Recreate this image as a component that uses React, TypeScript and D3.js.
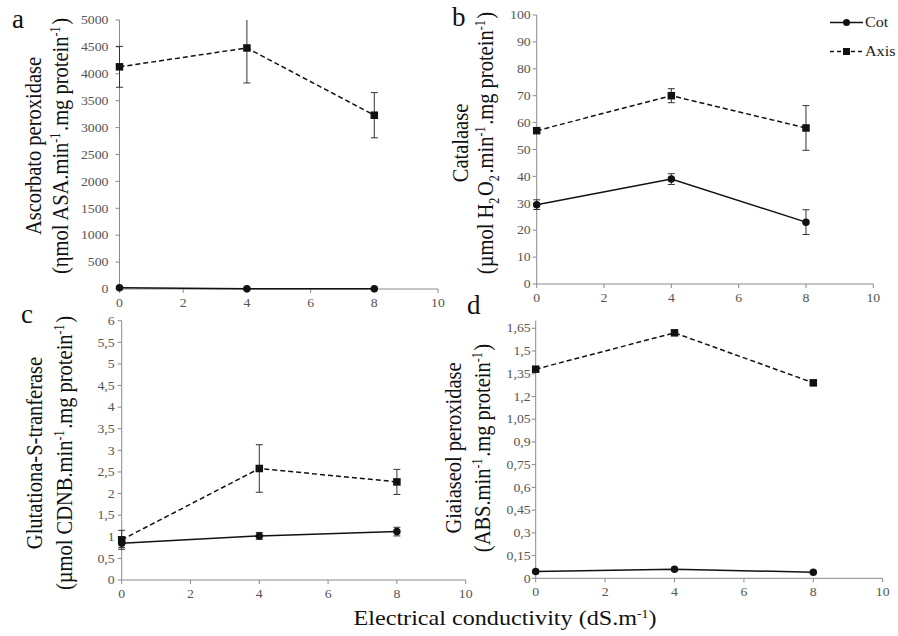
import React from "react";
import * as d3 from "d3";

const xValues = [0, 4, 8];
const xTicks = [0, 2, 4, 6, 8, 10];

const apxAxis = [4130, 4480, 3230];
const apxAxisErr = [380, 650, 420];
const apxCot = [25, 5, 5];
const apxCotErr = [0, 0, 0];

const catAxis = [57, 70, 58];
const catAxisErr = [0.5, 2.6, 8.3];
const catCot = [29.5, 39, 23];
const catCotErr = [1.8, 2, 4.6];

const gstAxis = [0.93, 2.58, 2.27];
const gstAxisErr = [0.22, 0.55, 0.29];
const gstCot = [0.85, 1.02, 1.12];
const gstCotErr = [0.1, 0.08, 0.1];

const gpxAxis = [1.38, 1.62, 1.29];
const gpxCot = [0.045, 0.06, 0.04];

const apxTicks = d3.range(0, 5001, 500);
const catTicks = d3.range(0, 101, 10);
const gstTicks = d3.range(0, 6.01, 0.5);
const gpxTicks = d3.range(0, 12).map((i) => +(i * 0.15).toFixed(2));

const seriesNames = ["Cot", "Axis"];

const FONT = "'Liberation Serif', 'Times New Roman', serif";
const SX = 1.15;
const fmt = (v: number) => String(+v.toFixed(2)).replace(".", ",");

function Sup({ t }: { t: string }) {
  return (
    <>
      <tspan dy={-7} fontSize={12}>{t}</tspan>
      <tspan dy={7}>{"\u200a"}</tspan>
    </>
  );
}
function Sub({ t }: { t: string }) {
  return (
    <>
      <tspan dy={5} fontSize={12}>{t}</tspan>
      <tspan dy={-5}>{"\u200a"}</tspan>
    </>
  );
}

function HText(props: { x: number; y: number; size: number; anchor?: string; fill?: string; dy?: string; children: React.ReactNode }) {
  return (
    <text
      transform={`translate(${props.x},${props.y}) scale(${SX},1)`}
      dy={props.dy}
      textAnchor={props.anchor || "start"}
      fontFamily={FONT}
      fontSize={props.size}
      fill={props.fill || "#111"}
    >
      {props.children}
    </text>
  );
}

type Panel = {
  letter: string;
  lx: number; ly: number;
  x0: number; x1: number; yTop: number; yBot: number;
  yMax: number; ticks: number[];
  axis: number[]; axisErr: number[] | null;
  cot: number[]; cotErr: number[] | null;
  tickGap: number;
  title1: string; t1x: number; t2x: number; tcy: number;
  title2: React.ReactNode;
};

const panels: Panel[] = [
  {
    letter: "a", lx: 12, ly: 28,
    x0: 119.5, x1: 438, yTop: 20, yBot: 289, yMax: 5000, ticks: apxTicks,
    axis: apxAxis, axisErr: apxAxisErr, cot: apxCot, cotErr: apxCotErr,
    tickGap: 11,
    title1: "Ascorbato peroxidase", t1x: 41, t2x: 68, tcy: 146,
    title2: (<>(ηmol ASA.min<Sup t="-1" />.mg protein<Sup t="-1" />)</>),
  },
  {
    letter: "b", lx: 452, ly: 26,
    x0: 536.7, x1: 873.3, yTop: 15, yBot: 284, yMax: 100, ticks: catTicks,
    axis: catAxis, axisErr: catAxisErr, cot: catCot, cotErr: catCotErr,
    tickGap: 6,
    title1: "Catalaase", t1x: 468, t2x: 493, tcy: 143,
    title2: (<>(µmol H<Sub t="2" />O<Sub t="2" />.min<Sup t="-1" />.mg protein<Sup t="-1" />)</>),
  },
  {
    letter: "c", lx: 21, ly: 323,
    x0: 121.7, x1: 465.7, yTop: 320.7, yBot: 580, yMax: 6, ticks: gstTicks,
    axis: gstAxis, axisErr: gstAxisErr, cot: gstCot, cotErr: gstCotErr,
    tickGap: 7,
    title1: "Glutationa-S-tranferase", t1x: 42, t2x: 72, tcy: 453,
    title2: (<>(µmol CDNB.min<Sup t="-1" />.mg protein<Sup t="-1" />)</>),
  },
  {
    letter: "d", lx: 467, ly: 314,
    x0: 535.7, x1: 882.7, yTop: 320.7, yBot: 578.3, yMax: 1.7, ticks: gpxTicks,
    axis: gpxAxis, axisErr: null, cot: gpxCot, cotErr: null,
    tickGap: 5,
    title1: "Giaiaseol peroxidase", t1x: 461, t2x: 490, tcy: 448,
    title2: (<>(ABS.min<Sup t="-1" />.mg protein<Sup t="-1" />)</>),
  },
];

function PanelView({ p }: { p: Panel }) {
  const x = d3.scaleLinear().domain([0, 10]).range([p.x0, p.x1]);
  const y = d3.scaleLinear().domain([0, p.yMax]).range([p.yBot, p.yTop]);
  const line = d3
    .line<number>()
    .x((_, i) => x(xValues[i]))
    .y((d) => y(d));
  const clampY = (v: number) => y(Math.min(Math.max(v, 0), p.yMax));

  const errBars = (vals: number[], errs: number[] | null, key: string) =>
    errs
      ? vals.map((v, i) =>
          errs[i] > 0 ? (
            <g key={key + i} stroke="#333" strokeWidth={1}>
              <line x1={x(xValues[i])} x2={x(xValues[i])} y1={clampY(v + errs[i])} y2={clampY(v - errs[i])} />
              {v + errs[i] <= p.yMax && (
                <line x1={x(xValues[i]) - 3.5} x2={x(xValues[i]) + 3.5} y1={clampY(v + errs[i])} y2={clampY(v + errs[i])} />
              )}
              <line x1={x(xValues[i]) - 3.5} x2={x(xValues[i]) + 3.5} y1={clampY(v - errs[i])} y2={clampY(v - errs[i])} />
            </g>
          ) : null
        )
      : null;

  const titleT = (tx: number) => `translate(${tx},${p.tcy}) scale(${SX},1) rotate(-90)`;

  return (
    <g>
      <text x={p.lx} y={p.ly} fontFamily={FONT} fontSize={27} fill="#111">{p.letter}</text>
      <line x1={p.x0} x2={p.x0} y1={p.yTop} y2={p.yBot} stroke="#8a8a8a" strokeWidth={1} />
      <line x1={p.x0} x2={p.x1} y1={p.yBot} y2={p.yBot} stroke="#8a8a8a" strokeWidth={1} />
      {p.ticks.map((t) => (
        <g key={"yt" + t}>
          <line x1={p.x0 - 4} x2={p.x0} y1={y(t)} y2={y(t)} stroke="#8a8a8a" />
          <HText x={p.x0 - p.tickGap} y={y(t)} dy="0.35em" anchor="end" size={12} fill="#555">
            {fmt(t)}
          </HText>
        </g>
      ))}
      {xTicks.map((t) => (
        <g key={"xt" + t}>
          <line x1={x(t)} x2={x(t)} y1={p.yBot} y2={p.yBot + 4} stroke="#8a8a8a" />
          <HText x={x(t)} y={p.yBot + 18} anchor="middle" size={12} fill="#555">
            {t}
          </HText>
        </g>
      ))}
      <text transform={titleT(p.t1x)} textAnchor="middle" fontFamily={FONT} fontSize={20.5} fill="#111">
        {p.title1}
      </text>
      <text transform={titleT(p.t2x)} textAnchor="middle" fontFamily={FONT} fontSize={20.5} fill="#111">
        {p.title2}
      </text>
      {errBars(p.axis, p.axisErr, "ea")}
      {errBars(p.cot, p.cotErr, "ec")}
      <path d={line(p.axis) || ""} fill="none" stroke="#111" strokeWidth={1.5} strokeDasharray="5,3" />
      <path d={line(p.cot) || ""} fill="none" stroke="#111" strokeWidth={1.5} />
      {p.axis.map((v, i) => (
        <rect key={"ma" + i} x={x(xValues[i]) - 3.75} y={y(v) - 3.75} width={7.5} height={7.5} fill="#111" />
      ))}
      {p.cot.map((v, i) => (
        <circle key={"mc" + i} cx={x(xValues[i])} cy={y(v)} r={3.75} fill="#111" />
      ))}
    </g>
  );
}

export default function App() {
  return (
    <svg width={898} height={636} style={{ position: "absolute", left: 0, top: 0, background: "#fff" }}>
      <rect width={898} height={636} fill="#fff" />
      {panels.map((p) => (
        <PanelView key={p.letter} p={p} />
      ))}
      <g>
        <line x1={830} x2={863} y1={22.5} y2={22.5} stroke="#111" strokeWidth={1.5} />
        <circle cx={846.5} cy={22.5} r={3.5} fill="#111" />
        <HText x={865} y={22.5} dy="0.35em" size={14} fill="#222">{seriesNames[0]}</HText>
        <line x1={830} x2={863} y1={51.5} y2={51.5} stroke="#111" strokeWidth={1.5} strokeDasharray="4,3" />
        <rect x={843} y={48} width={7} height={7} fill="#111" />
        <HText x={865} y={51.5} dy="0.35em" size={14} fill="#222">{seriesNames[1]}</HText>
      </g>
      <HText x={505} y={625} anchor="middle" size={21}>
        Electrical conductivity (dS.m<tspan dy={-7} fontSize={12}>-1</tspan><tspan dy={7}>)</tspan>
      </HText>
    </svg>
  );
}
